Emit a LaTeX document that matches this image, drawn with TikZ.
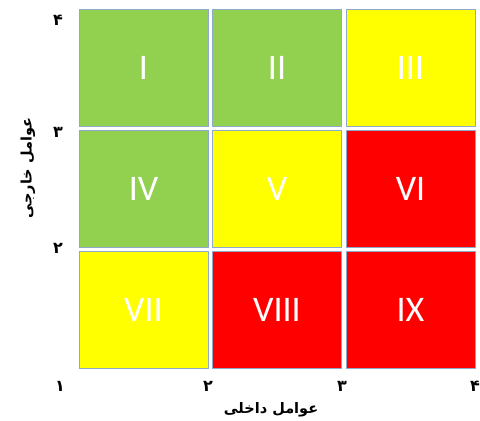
\documentclass[tikz,border=0pt]{standalone}
\usepackage{fontspec}
\setmainfont{Carlito}
\newfontfamily\farsifont[Script=Arabic]{DejaVu Sans}
\TeXXeTstate=1
\usetikzlibrary{positioning}

\definecolor{cellgreen}{HTML}{92D050}
\definecolor{cellyellow}{HTML}{FFFF00}
\definecolor{cellred}{HTML}{FF0000}
\definecolor{cellline}{HTML}{8EA9CB}

\begin{document}
\begin{tikzpicture}[x=1pt, y=1pt, node distance = 121pt and 133.5pt, on grid,
  cell/.style = {draw=cellline, line width=1pt, minimum width=129pt,
    minimum height=117pt, inner sep=0pt, text=white,
    font=\fontsize{36}{36}\selectfont},
  tick/.style = {font=\farsifont\bfseries\fontsize{16}{16}\selectfont, inner sep=0pt},
  axis/.style = {font=\farsifont\bfseries\fontsize{14.5}{14.5}\selectfont, inner sep=0pt}]
  \useasboundingbox (0,0) rectangle (480,421);
  % cells
  \node[cell, fill=cellgreen] (I) at (143.5,353) {I};
  \node[cell, fill=cellgreen] (II) [right=of I] {II};
  \node[cell, fill=cellyellow] (III) [right=of II] {III};
  \node[cell, fill=cellgreen] (IV) [below=of I] {IV};
  \node[cell, fill=cellyellow] (V) [right=of IV] {V};
  \node[cell, fill=cellred] (VI) [right=of V] {VI};
  \node[cell, fill=cellyellow] (VII) [below=of IV] {VII};
  \node[cell, fill=cellred] (VIII) [right=of VII] {VIII};
  \node[cell, fill=cellred] (IX) [right=of VIII] {IX};
  % ticks
  \node[tick] (y4) at (58,401) {\beginR ۴\endR};
  \node[tick] (y3) at (58,289) {\beginR ۳\endR};
  \node[tick] (y2) at (58,173) {\beginR ۲\endR};
  \node[tick] (x1) at (60,35) {\beginR ۱\endR};
  \node[tick] (x2) at (208,35) {\beginR ۲\endR};
  \node[tick] (x3) at (342,35) {\beginR ۳\endR};
  \node[tick] (x4) at (475,35) {\beginR ۴\endR};
  % axis titles
  \node[axis] (xt) at (271,11) {\beginR عوامل داخلی\endR};
  \node[axis, rotate=90] (yt) at (28,253) {\beginR عوامل خارجی\endR};
\end{tikzpicture}
\end{document}
